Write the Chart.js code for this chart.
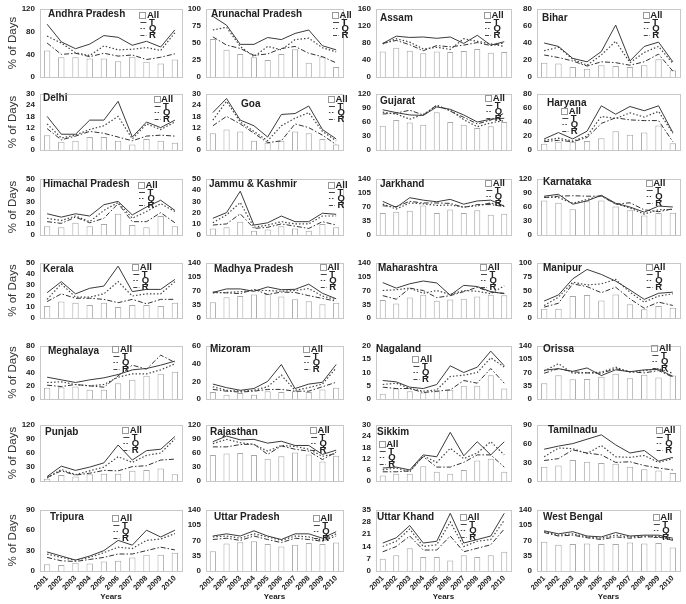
<!DOCTYPE html>
<html>
<head>
<meta charset="utf-8">
<script src="https://cdn.jsdelivr.net/npm/chart.js@4.4.1/dist/chart.umd.min.js"></script>
<style>
  html, body { margin: 0; padding: 0; background: #fff; }
  #wrap { position: relative; width: 686px; height: 604px; overflow: hidden; }
  #wrap canvas { position: absolute; }
</style>
</head>
<body>
<div id="wrap"></div>
<script>
const years = ["2001", "2002", "2003", "2004", "2005", "2006", "2007", "2008", "2009", "2010"];

const states = [
  "Andhra Pradesh", "Arunachal Pradesh", "Assam", "Bihar",
  "Delhi", "Goa", "Gujarat", "Haryana",
  "Himachal Pradesh", "Jammu & Kashmir", "Jarkhand", "Karnataka",
  "Kerala", "Madhya Pradesh", "Maharashtra", "Manipur",
  "Meghalaya", "Mizoram", "Nagaland", "Orissa",
  "Punjab", "Rajasthan", "Sikkim", "Tamilnadu",
  "Tripura", "Uttar Pradesh", "Uttar Khand", "West Bengal",
];

const yMax = [120, 100, 160, 80, 30, 30, 120, 80, 50, 50, 140, 120, 50, 140, 140, 100,
  80, 60, 20, 140, 120, 120, 30, 90, 90, 140, 35, 140];
const yStep = [40, 25, 40, 20, 6, 6, 30, 20, 10, 10, 35, 30, 10, 35, 35, 25,
  20, 20, 5, 35, 30, 30, 6, 30, 30, 35, 7, 35];

// "All" bars
const allDays = [
  [47, 35, 35, 33, 33, 28, 36, 27, 24, 31],
  [56, 40, 34, 29, 25, 34, 41, 21, 30, 15],
  [60, 69, 62, 56, 60, 59, 61, 66, 57, 59],
  [17, 16, 12, 10, 14, 13, 12, 14, 21, 8],
  [8, 4.5, 5, 7, 7, 5, 3, 6, 5, 4],
  [9, 11, 10, 5, 4, 5, 10, 9, 6, 3],
  [52, 64, 59, 54, 81, 60, 54, 47, 51, 60],
  [9, 12, 12, 13, 17, 27, 22, 25, 35, 10],
  [8, 7, 11, 8, 10, 19, 9, 7, 17, 8],
  [6, 7, 12, 4, 5, 8, 6, 4, 10, 7],
  [55, 58, 61, 74, 55, 64, 55, 62, 51, 53],
  [74, 69, 55, 72, 74, 61, 53, 42, 47, 48],
  [11, 15, 14, 12, 14, 10, 12, 12, 11, 14],
  [40, 53, 56, 60, 61, 55, 48, 43, 35, 39],
  [46, 37, 52, 59, 44, 47, 49, 55, 59, 58],
  [17, 17, 40, 42, 32, 43, 25, 16, 22, 19],
  [17, 18, 19, 14, 14, 24, 29, 35, 38, 41],
  [8, 5, 7, 5, 9, 8, 9, 8, 11, 13],
  [2, 4, 3, 2.5, 3, 3.5, 5, 5, 9, 4],
  [42, 63, 52, 53, 59, 67, 55, 64, 57, 62],
  [5, 13, 10, 15, 16, 16, 22, 24, 27, 15],
  [56, 59, 60, 56, 48, 53, 61, 57, 42, 54],
  [3, 4, 4, 8, 5, 4, 6, 11, 12, 5],
  [23, 25, 34, 31, 29, 28, 23, 19, 17, 13],
  [10, 9, 12, 11, 14, 15, 20, 24, 24, 27],
  [45, 63, 66, 68, 62, 56, 60, 64, 62, 65],
  [7, 9, 13, 8, 8, 6, 9, 8, 9, 11],
  [67, 60, 62, 63, 62, 62, 65, 63, 64, 54],
];

// T (solid)
const tDays = [
  [93, 62, 50, 58, 73, 70, 56, 63, 53, 83],
  [89, 76, 48, 48, 58, 55, 64, 69, 46, 40],
  [79, 96, 93, 94, 91, 94, 79, 98, 75, 83],
  [40, 36, 22, 18, 30, 61, 19, 36, 41, 18],
  [18, 8.5, 8.5, 16, 16, 26, 7, 15, 12, 16],
  [20, 27.5, 16, 13, 7, 19, 19.5, 23.5, 11, 6],
  [86, 80, 75, 74, 92, 87, 75, 60, 66, 68],
  [16, 25, 16, 27, 63, 51, 62, 56, 63, 25],
  [19, 16, 19, 17, 27, 30, 18, 25, 31, 22],
  [15, 20, 39, 9, 11, 17, 12, 12, 19.5, 18.5],
  [84, 69, 93, 87, 83, 89, 77, 85, 87, 72],
  [83, 87, 66, 73, 85, 68, 60, 49, 62, 60],
  [23, 33, 22, 27, 29, 47, 24, 26, 26, 35],
  [65, 74, 74, 68, 79, 72, 73, 86, 63, 49],
  [90, 76, 87, 94, 89, 58, 83, 80, 67, 62],
  [31, 42, 71, 88, 79, 67, 51, 34, 45, 47],
  [33, 29, 25, 29, 32, 37, 44, 46, 51, 57],
  [17, 13, 10, 12, 20, 39, 12, 17, 19, 39],
  [7, 6.5, 4.5, 4, 5.5, 12.5, 10, 12, 18, 12.5],
  [76, 80, 73, 82, 62, 77, 72, 77, 78, 60],
  [10, 32, 23, 30, 39, 77, 45, 65, 68, 95],
  [84, 96, 88, 89, 81, 85, 76, 76, 57, 66],
  [7, 7.5, 6, 14, 13, 26, 13.5, 21, 14, 21],
  [51, 56, 60, 67, 74, 58, 45, 49, 32, 38],
  [28, 22, 16, 22, 30, 45, 38, 60, 50, 60],
  [80, 85, 80, 92, 80, 72, 85, 85, 75, 90],
  [16, 19, 26, 16, 17, 33, 16, 18, 20, 33],
  [92, 85, 90, 80, 78, 88, 80, 82, 82, 75],
];

// Q (dotted)
const qDays = [
  [72, 60, 43, 38, 55, 48, 49, 52, 47, 78],
  [69, 73, 45, 30, 45, 40, 55, 57, 43, 37],
  [78, 90, 82, 66, 70, 65, 90, 84, 78, 72],
  [31, 35, 21, 14, 26, 42, 17, 29, 36, 16],
  [14, 6.5, 8, 11, 13, 18, 6, 14, 11, 15],
  [16, 26, 15, 10, 5, 13, 17, 20, 10, 5],
  [81, 77, 66, 76, 95, 85, 65, 50, 58, 63],
  [14, 17, 13, 20, 48, 45, 53, 47, 55, 24],
  [15, 13, 17, 12, 22, 29, 15, 21, 28, 21],
  [11, 18, 29, 7, 9, 12, 10, 10, 17, 17],
  [77, 65, 80, 78, 74, 75, 70, 73, 80, 73],
  [81, 80, 68, 76, 84, 67, 58, 45, 54, 55],
  [17, 31, 19, 19, 22, 33, 20, 22, 22, 33],
  [64, 65, 67, 70, 70, 68, 70, 75, 56, 47],
  [70, 72, 76, 63, 70, 60, 70, 68, 62, 82],
  [23, 38, 65, 60, 62, 70, 47, 29, 40, 44],
  [25, 26, 22, 20, 22, 33, 38, 38, 44, 53],
  [14, 10, 9, 10, 14, 27, 10, 13, 17, 35],
  [5.5, 6, 4, 3, 3.5, 8.5, 9, 10, 15.5, 12],
  [74, 93, 68, 69, 71, 84, 71, 75, 80, 68],
  [7, 25, 14, 22, 30, 52, 40, 55, 60, 90],
  [80, 89, 82, 78, 64, 76, 74, 68, 53, 59],
  [6, 7, 5, 13.5, 10, 17.5, 12, 15, 21, 14],
  [39, 53, 52, 44, 57, 39, 38, 41, 30, 36],
  [25, 20, 16, 20, 27, 35, 33, 45, 47, 55],
  [78, 80, 75, 85, 78, 70, 80, 78, 70, 85],
  [14, 17, 24, 14, 15, 28, 14, 17, 18, 29],
  [90, 82, 85, 78, 75, 82, 78, 80, 80, 72],
];

// R (dash-dot)
const rDays = [
  [60, 40, 42, 36, 42, 37, 39, 31, 35, 41],
  [59, 47, 42, 32, 34, 42, 45, 35, 30, 21],
  [79, 86, 76, 62, 74, 71, 75, 81, 74, 80],
  [26, 23, 19, 13, 18, 17, 14, 18, 27, 7],
  [11.5, 5.5, 7.5, 10, 9, 7, 5, 7.5, 8, 7.5],
  [13, 18, 14, 9, 4, 5, 14, 12, 8, 3],
  [77, 79, 85, 75, 96, 83, 70, 56, 64, 79],
  [12, 14, 12, 18, 38, 46, 43, 42, 42, 12],
  [12, 10.5, 16, 11, 15, 28, 12, 12, 20, 11],
  [9, 10, 19, 6, 7, 10, 8, 6, 12, 9],
  [73, 71, 84, 80, 80, 79, 69, 76, 76, 71],
  [80, 83, 84, 83, 83, 66, 69, 54, 50, 56],
  [15, 22, 18, 18, 17, 14, 17, 13, 17, 17],
  [66, 64, 62, 73, 60, 66, 65, 57, 50, 43],
  [57, 48, 76, 70, 52, 57, 67, 78, 66, 63],
  [20, 27, 62, 57, 46, 56, 35, 18, 29, 23],
  [21, 19, 22, 20, 18, 35, 51, 45, 66, 55],
  [11, 9, 8, 9, 11, 11, 9, 9, 14, 19],
  [4.5, 4, 4, 2.5, 3, 3.5, 7, 6, 11.5, 6],
  [68, 80, 72, 69, 68, 80, 72, 69, 75, 58],
  [8, 22, 13, 17, 23, 22, 31, 33, 45, 47],
  [73, 73, 78, 79, 57, 75, 68, 64, 46, 62],
  [5, 5, 5.5, 13, 7.5, 7.5, 10, 14, 14, 7.5],
  [33, 36, 50, 45, 42, 30, 31, 25, 21, 18],
  [20, 15, 14, 17, 20, 25, 25, 30, 35, 31],
  [72, 75, 70, 80, 72, 65, 75, 72, 68, 80],
  [11, 14, 20, 12, 12, 20, 11, 13, 15, 24],
  [88, 80, 82, 76, 72, 78, 75, 78, 78, 70],
];

// panel geometry (plot areas)
const colLeft = [40, 206, 376, 537];
const colRight = [182, 343, 511, 680];
const rowTop = [5, 90, 175, 259, 342, 421, 506];
const rowBottom = [84, 157, 242, 325, 406, 488, 571];

// legend: [fraction of plot width, px from plot top], title: [dx, dy]
const legendAt = [
  [0.70, 7], [0.92, 7], [0.80, 7], [0.74, 7],
  [0.80, 6], [0.89, 6], [0.81, 5], [0.17, 18],
  [0.69, 7], [0.89, 7], [0.81, 5], [0.76, 5],
  [0.65, 5], [0.83, 5], [0.77, 5], [0.76, 5],
  [0.51, 4], [0.71, 4], [0.27, 14], [0.80, 3],
  [0.58, 6], [0.76, 6], [0.02, 20], [0.83, 6],
  [0.51, 9], [0.78, 9], [0.62, 8], [0.81, 8],
];
const titleAt = [
  [8, 5], [5, 5], [4, 9], [5, 9],
  [3, 4], [35, 10], [4, 7], [10, 9],
  [3, 5], [3, 5], [4, 5], [6, 3],
  [3, 6], [8, 6], [2, 5], [6, 5],
  [8, 5], [4, 3], [0, 3], [6, 3],
  [5, 7], [4, 7], [1, 7], [11, 5],
  [10, 7], [8, 7], [1, 7], [6, 7],
];

const ink = "#222";
const boldFont = "'Liberation Sans', Arial, sans-serif";

function drawLegend(ctx, x, y) {
  ctx.save();
  ctx.font = "bold 9.5px " + boldFont;
  ctx.textBaseline = "middle";
  ctx.textAlign = "left";
  ctx.strokeStyle = "#999";
  ctx.lineWidth = 1;
  ctx.strokeRect(Math.round(x) + 0.5, Math.round(y) - 3.5, 6, 6);
  ctx.fillStyle = ink;
  ctx.fillText("All", x + 7.5, y);
  const rows = [["T", []], ["Q", [1.5, 1.5]], ["R", [4, 1.5, 1.5, 1.5]]];
  rows.forEach(([lab, dash], i) => {
    const yy = Math.round(y + 6.3 * (i + 1)) + 0.5;
    ctx.strokeStyle = "#444";
    ctx.setLineDash(dash);
    ctx.beginPath();
    ctx.moveTo(x + 1, yy);
    ctx.lineTo(x + 7, yy);
    ctx.stroke();
    ctx.setLineDash([]);
    ctx.fillText(lab, x + 9.5, yy);
  });
  ctx.restore();
}

const panelDecor = {
  id: "panelDecor",
  beforeDatasetsDraw(chart) {
    const a = chart.chartArea;
    const ctx = chart.ctx;
    ctx.save();
    ctx.strokeStyle = "#c8c8c8";
    ctx.lineWidth = 1;
    ctx.strokeRect(Math.round(a.left) + 0.5, Math.round(a.top) + 0.5,
      Math.round(a.right - a.left), Math.round(a.bottom - a.top));
    ctx.restore();
  },
  afterDatasetsDraw(chart, args, opts) {
    const a = chart.chartArea;
    const ctx = chart.ctx;
    const i = opts.index;
    ctx.save();
    ctx.font = "bold 10px " + boldFont;
    ctx.fillStyle = ink;
    ctx.textBaseline = "middle";
    ctx.fillText(states[i], a.left + titleAt[i][0], a.top + titleAt[i][1]);
    ctx.restore();
    drawLegend(ctx, a.left + legendAt[i][0] * (a.right - a.left), a.top + legendAt[i][1]);
  },
};

const wrap = document.getElementById("wrap");

states.forEach((name, i) => {
  const r = Math.floor(i / 4);
  const c = i % 4;
  const last = r === 6;
  const yW = c === 0 ? 40 : 26;
  const padR = 14;
  const left = colLeft[c] - yW;
  const top = rowTop[r] - 6;
  const width = colRight[c] - colLeft[c] + yW + padR;
  const bottom = last ? 604 : rowBottom[r] + 3;
  const height = bottom - top;

  const cv = document.createElement("canvas");
  cv.width = width;
  cv.height = height;
  cv.style.left = left + "px";
  cv.style.top = top + "px";
  cv.style.width = width + "px";
  cv.style.height = height + "px";
  wrap.appendChild(cv);

  new Chart(cv, {
    type: "bar",
    data: {
      labels: years,
      datasets: [
        {
          type: "line",
          label: "T",
          data: tDays[i],
          borderColor: "#3a3a3a",
          borderWidth: 1,
          pointRadius: 0,
          tension: 0,
          order: 0,
        },
        {
          type: "line",
          label: "Q",
          data: qDays[i],
          borderColor: "#444",
          borderWidth: 1.2,
          borderDash: [1.5, 2],
          pointRadius: 0,
          tension: 0,
          order: 0,
        },
        {
          type: "line",
          label: "R",
          data: rDays[i],
          borderColor: "#333",
          borderWidth: 1,
          borderDash: [5, 2, 1.5, 2],
          pointRadius: 0,
          tension: 0,
          order: 0,
        },
        {
          label: "All",
          data: allDays[i],
          backgroundColor: "#fff",
          borderColor: "#a8a8a8",
          borderWidth: 1,
          barPercentage: 0.45,
          categoryPercentage: 1,
          order: 1,
        },
      ],
    },
    options: {
      responsive: false,
      animation: false,
      devicePixelRatio: 1,
      layout: { padding: { top: 6, right: padR, bottom: last ? 0 : 3, left: 0 } },
      plugins: {
        legend: { display: false },
        tooltip: { enabled: false },
        panelDecor: { index: i },
      },
      scales: {
        x: {
          display: last,
          grid: { display: false, drawTicks: false },
          border: { display: false },
          ticks: {
            color: ink,
            autoSkip: false,
            font: { family: boldFont, size: 7.5, weight: "bold" },
            minRotation: 45,
            maxRotation: 45,
            padding: 3,
          },
          title: {
            display: true,
            text: "Years",
            color: ink,
            font: { family: boldFont, size: 8, weight: "bold" },
            padding: { top: 0, bottom: 2 },
          },
          afterFit: (s) => { if (last) s.height = 604 - rowBottom[6]; },
        },
        y: {
          min: 0,
          max: yMax[i],
          grid: { display: false, drawTicks: false },
          border: { display: false },
          ticks: {
            stepSize: yStep[i],
            autoSkip: false,
            color: ink,
            font: { family: boldFont, size: 8, weight: "bold" },
            padding: 5,
          },
          title: {
            display: c === 0,
            text: "% of Days",
            color: "#333",
            font: { family: "'Liberation Sans Narrow', 'Liberation Sans', Arial, sans-serif", size: 11.5 },
            padding: { top: 6, bottom: 0 },
          },
          afterFit: (s) => { s.width = yW; },
        },
      },
    },
    plugins: [panelDecor],
  });
});
</script>
</body>
</html>
